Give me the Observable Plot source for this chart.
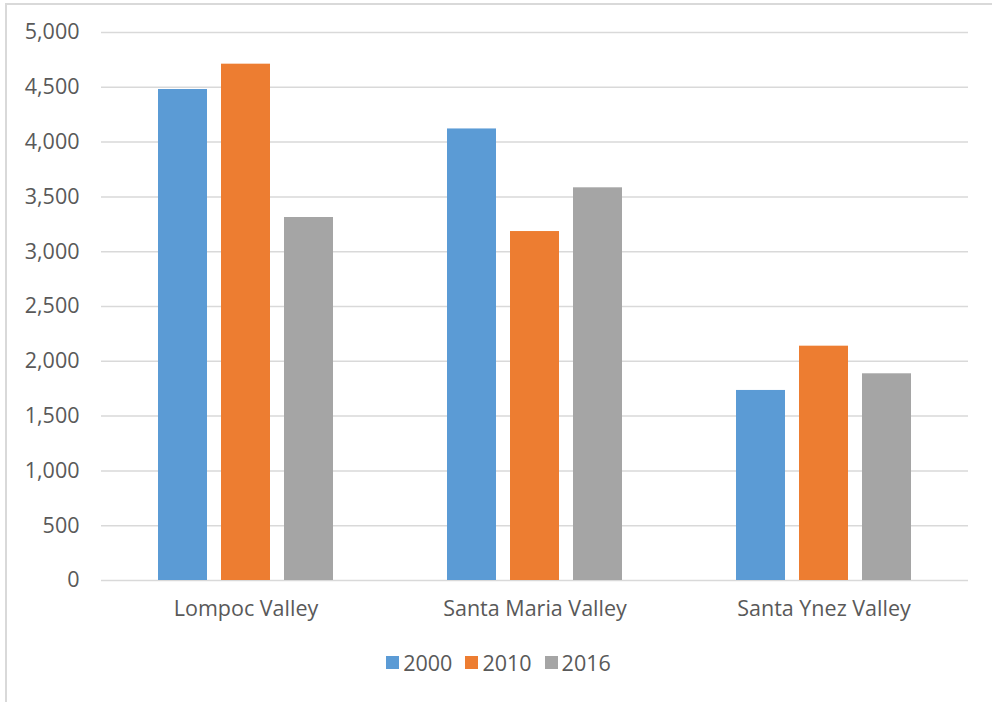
<!DOCTYPE html>
<html>
<head>
<meta charset="utf-8">
<script src="https://cdn.jsdelivr.net/npm/d3@7"></script>
<script src="https://cdn.jsdelivr.net/npm/@observablehq/plot@0.6"></script>
<style>
  html, body { margin: 0; padding: 0; background: #fff; }
  #frame { position: absolute; left: 5px; top: 3px; width: 987px; height: 699px;
           border-left: 2px solid #d9d9d9; border-top: 2px solid #d9d9d9; box-sizing: border-box; }
  #chart { position: absolute; left: 0; top: 0; width: 992px; }
  #chart svg text { font-size: 21.5px; font-family: "Open Sans", sans-serif; fill: #595959; }
  .lg-swatch { margin-right: 13px !important; font-size: 21.5px !important; color: #595959; font-family: "Open Sans", sans-serif; }
  .lg-swatch > svg { margin-right: 4px !important; }
</style>
</head>
<body>
<div id="frame"></div>
<div id="chart"></div>
<script>
const regions = ["Lompoc Valley", "Santa Maria Valley", "Santa Ynez Valley"];
const years = ["2000", "2010", "2016"];
const v2000 = [4480, 4120, 1734];
const v2010 = [4711, 3184, 2138];
const v2016 = [3312, 3583, 1886];
const yTicks = [0, 500, 1000, 1500, 2000, 2500, 3000, 3500, 4000, 4500, 5000];
const colors = ["#5B9BD5", "#ED7D31", "#A5A5A5"];

const series = [v2000, v2010, v2016];
const data = [];
regions.forEach((r, i) => years.forEach((yr, j) => data.push({region: r, year: yr, value: series[j][i]})));

const chart = Plot.plot({
  width: 992,
  height: 630,
  marginLeft: 100,
  marginRight: 24,
  marginTop: 32,
  marginBottom: 50,
  style: {fontFamily: "'Open Sans', sans-serif", fontSize: "21.5px", color: "#595959", background: "transparent"},
  fx: {domain: regions, padding: 0, label: null, tickSize: 0, tickPadding: 20, axis: "bottom"},
  x: {domain: years, axis: null, paddingInner: 0.22, paddingOuter: 0.87},
  y: {domain: [0, 5000], ticks: yTicks, tickFormat: d3.format(","), label: null, tickSize: 0, tickPadding: 22},
  color: {domain: years, range: colors},
  marks: [
    Plot.ruleY(yTicks, {stroke: "#d9d9d9", strokeWidth: 1.5}),
    Plot.barY(data, {fx: "region", x: "year", y: "value", fill: "year"})
  ]
});
document.getElementById("chart").appendChild(chart);

const legend = Plot.legend({
  color: {domain: years, range: colors},
  swatchSize: 13,
  className: "lg",
  style: {fontFamily: "'Open Sans', sans-serif", fontSize: "21.5px", color: "#595959"}
});
legend.style.justifyContent = "center";
legend.style.marginTop = "16px";
legend.style.marginLeft = "18px";
document.getElementById("chart").appendChild(legend);
</script>
</body>
</html>
